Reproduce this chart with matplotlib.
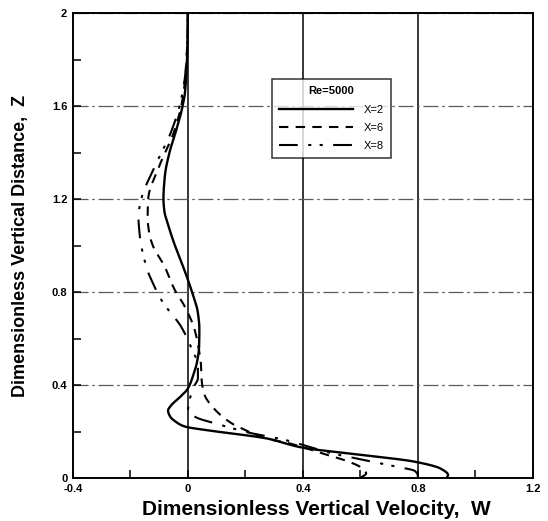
import matplotlib
matplotlib.use("Agg")
import matplotlib.pyplot as plt
import numpy as np

plt.rcParams['font.family'] = ['Liberation Sans', 'DejaVu Sans']

# Data (W, Z), ordered from Z=0 upward
z_x2 = [0.0, 0.013, 0.04, 0.07, 0.1, 0.129, 0.172, 0.2, 0.222, 0.24, 0.265, 0.29, 0.31, 0.345, 0.385, 0.44, 0.5, 0.565, 0.64, 0.71, 0.79, 0.853, 0.93, 1.0, 1.07, 1.15, 1.2, 1.3, 1.4, 1.49, 1.58, 1.66, 1.77, 1.9, 2.0]
w_x2 = [0.9, 0.905, 0.88, 0.79, 0.6, 0.406, 0.267, 0.1, -0.012, -0.04, -0.062, -0.069, -0.06, -0.03, 0.0, 0.018, 0.032, 0.039, 0.04, 0.035, 0.017, 0.0, -0.023, -0.045, -0.064, -0.082, -0.085, -0.08, -0.064, -0.042, -0.022, -0.01, -0.004, -0.001, 0.0]

z_x6 = [0.0, 0.02, 0.047, 0.07, 0.103, 0.15, 0.17, 0.2, 0.237, 0.3, 0.358, 0.42, 0.48, 0.54, 0.64, 0.74, 0.81, 0.91, 1.0, 1.05, 1.12, 1.2, 1.34, 1.49, 1.62, 1.75, 1.88, 2.0]
w_x6 = [0.6, 0.62, 0.6, 0.56, 0.475, 0.35, 0.27, 0.21, 0.15, 0.09, 0.058, 0.048, 0.046, 0.04, 0.023, -0.012, -0.046, -0.081, -0.122, -0.134, -0.14, -0.138, -0.1, -0.048, -0.02, -0.007, -0.002, 0.0]

z_x8 = [0.0, 0.01, 0.03, 0.05, 0.08, 0.11, 0.135, 0.164, 0.193, 0.228, 0.26, 0.285, 0.33, 0.39, 0.43, 0.48, 0.565, 0.65, 0.755, 0.82, 0.91, 1.05, 1.125, 1.2, 1.34, 1.49, 1.62, 1.75, 1.88, 2.0]
w_x8 = [0.8, 0.8, 0.79, 0.72, 0.6, 0.49, 0.42, 0.337, 0.22, 0.115, 0.03, 0.0, 0.005, 0.02, 0.035, 0.035, 0.01, -0.023, -0.087, -0.115, -0.145, -0.168, -0.172, -0.162, -0.115, -0.058, -0.025, -0.008, -0.002, 0.0]

x_ticks = [-0.4, 0, 0.4, 0.8, 1.2]
x_tick_labels = ['-0.4', '0', '0.4', '0.8', '1.2']
y_ticks = [0, 0.4, 0.8, 1.2, 1.6, 2]
y_tick_labels = ['0', '0.4', '0.8', '1.2', '1.6', '2']


def pchip(x, y, xn):
    x = np.asarray(x, float); y = np.asarray(y, float)
    h = np.diff(x); d = np.diff(y) / h
    n = len(x)
    m = np.zeros(n)
    for k in range(1, n - 1):
        if d[k - 1] * d[k] > 0:
            w1 = 2 * h[k] + h[k - 1]; w2 = h[k] + 2 * h[k - 1]
            m[k] = (w1 + w2) / (w1 / d[k - 1] + w2 / d[k])
    m[0] = d[0]; m[-1] = d[-1]
    idx = np.clip(np.searchsorted(x, xn) - 1, 0, n - 2)
    t = (xn - x[idx]) / h[idx]
    h00 = 2 * t**3 - 3 * t**2 + 1; h10 = t**3 - 2 * t**2 + t
    h01 = -2 * t**3 + 3 * t**2; h11 = t**3 - t**2
    return h00 * y[idx] + h10 * h[idx] * m[idx] + h01 * y[idx + 1] + h11 * h[idx] * m[idx + 1]


def curve(w, z):
    zz = np.linspace(0, 2, 1500)
    return pchip(z, w, zz), zz


fig = plt.figure(figsize=(5.48, 5.21), dpi=100)
ax = fig.add_axes([0.133, 0.0825, 0.8394, 0.8925])

w, z = curve(w_x2, z_x2)
ax.plot(w, z, color='black', lw=1.7, label='X=2')
w, z = curve(w_x6, z_x6)
ax.plot(w, z, color='black', lw=1.5, linestyle=(0, (4.5, 3.5)), label='X=6')
w, z = curve(w_x8, z_x8)
ax.plot(w, z, color='black', lw=1.5, linestyle=(0, (9, 5, 1.5, 4, 1.5, 5)), label='X=8')

ax.set_xlim(-0.4, 1.2)
ax.set_ylim(0, 2)
ax.set_xticks(x_ticks)
ax.set_xticklabels(x_tick_labels)
ax.set_yticks(y_ticks)
ax.set_yticklabels(y_tick_labels)
ax.set_xticks(np.arange(-0.4, 1.21, 0.2), minor=True)
ax.set_yticks(np.arange(0, 2.01, 0.2), minor=True)
ax.tick_params(which='both', direction='in', labelsize=8, width=1.1, colors='black')
ax.tick_params(which='major', length=6, pad=4)
ax.tick_params(which='minor', length=6)
for lab in ax.get_xticklabels() + ax.get_yticklabels():
    lab.set_fontweight('bold')

for xv in [0, 0.4, 0.8]:
    ax.axvline(xv, color='black', lw=1.1, zorder=0)
for yv in [0.4, 0.8, 1.2, 1.6, 2.0]:
    ax.axhline(yv, color='#5a5a5a', lw=0.9, linestyle=(0, (12, 3, 2, 3)), zorder=0)

for s in ax.spines.values():
    s.set_linewidth(1.4)

ax.set_xlabel('Dimensionless Vertical Velocity,  W', fontsize=15, fontweight='bold')
ax.set_ylabel('Dimensionless Vertical Distance,  Z', fontsize=13, fontweight='bold')
ax.xaxis.set_label_coords(0.53, -0.047)
ax.yaxis.set_label_coords(-0.095, 0.5)

leg = ax.legend(title='Re=5000', loc='upper left', bbox_to_anchor=(0.433, 0.858),
                fontsize=8, title_fontsize=8, frameon=True, fancybox=False,
                edgecolor='black', handlelength=6.6, borderpad=0.65,
                labelspacing=0.75, handletextpad=1.0, borderaxespad=0.0)
leg.get_title().set_fontweight('bold')
leg.get_frame().set_linewidth(1.1)

fig.savefig('out.png', dpi=100)
